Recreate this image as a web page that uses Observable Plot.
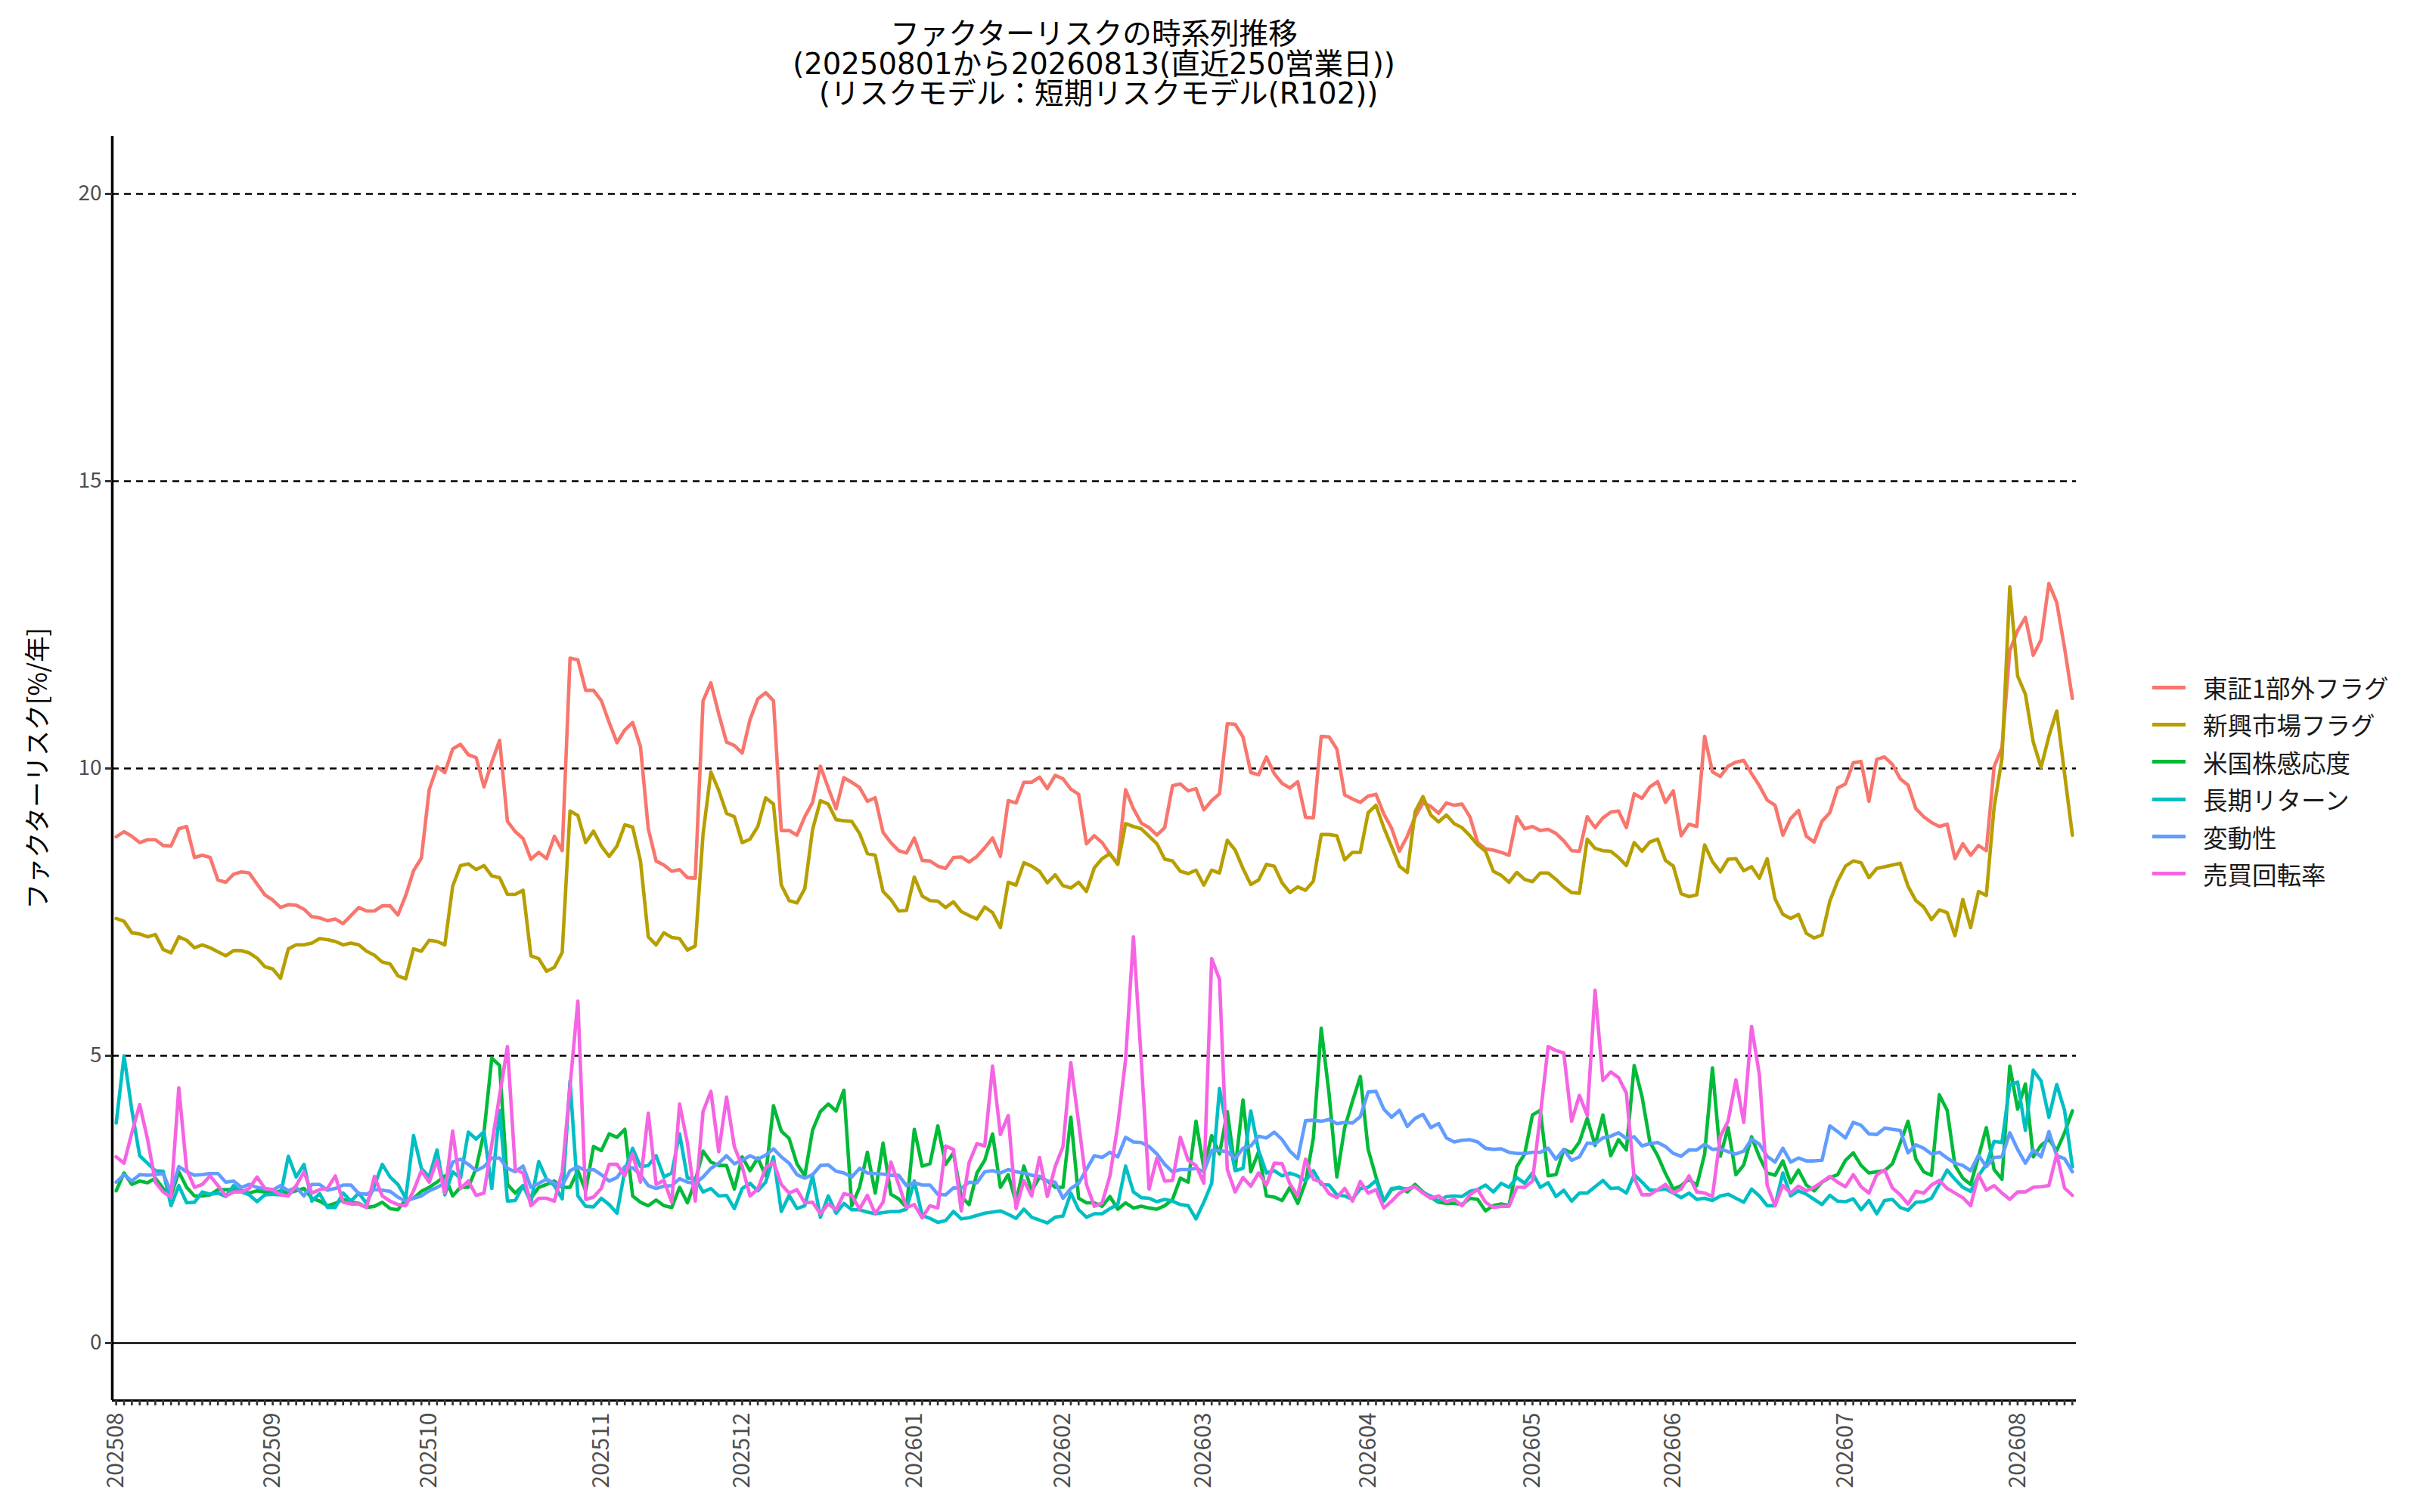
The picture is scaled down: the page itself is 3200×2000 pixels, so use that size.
<!DOCTYPE html>
<html>
<head>
<meta charset="utf-8">
<script src="https://cdn.jsdelivr.net/npm/d3@7"></script>
<script src="https://cdn.jsdelivr.net/npm/@observablehq/plot@0.6"></script>
<style>
  html, body { margin: 0; padding: 0; background: #ffffff; }
  #page { position: relative; width: 3200px; height: 2000px; background: #ffffff; font-family: "Noto Sans CJK JP", "Noto Sans", sans-serif; }
  #chart { position: absolute; left: 0; top: 0; }
  #title { position: absolute; left: 0; top: 25px; width: 2893px; text-align: center; font-family: "DejaVu Sans", "Noto Sans CJK JP", sans-serif; font-size: 38.6px; line-height: 39.5px; color: #000; white-space: pre; }
  #legend { position: absolute; left: 2846px; top: 884px; }
  .item { position: relative; height: 49.4px; }
  .sw { position: absolute; left: 0; top: 22.5px; width: 44px; height: 5px; }
  .lb { position: absolute; left: 67px; top: 0; font-size: 32.5px; line-height: 50px; color: #1a1a1a; white-space: nowrap; }
</style>
</head>
<body>
<div id="page">
  <div id="chart"></div>
  <div id="title"></div>
  <div id="legend"></div>
</div>
<script>
// ---------- data ----------
const titleLines = ["ファクターリスクの時系列推移", "(20250801から20260813(直近250営業日))", " (リスクモデル：短期リスクモデル(R102))"];
const yLabel = "ファクターリスク[%/年]";
const seriesNames = ["東証1部外フラグ", "新興市場フラグ", "米国株感応度", "長期リターン", "変動性", "売買回転率"];
const seriesColors = ["#F8766D", "#B79F00", "#00BA38", "#00BFC4", "#619CFF", "#F564E3"];
const yTicks = [0, 5, 10, 15, 20];
const startDate = "2025-08-01";
const endDate = "2026-08-13";
const holidays = ["2025-08-11","2025-09-15","2025-09-23","2025-10-13","2025-11-03","2025-11-24","2025-12-31",
  "2026-01-01","2026-01-02","2026-01-12","2026-02-11","2026-02-23","2026-03-20","2026-04-29",
  "2026-05-04","2026-05-05","2026-05-06","2026-07-20","2026-08-11"];

const tseOther = [
8.81,8.90,8.82,8.71,8.76,8.76,8.66,8.65,8.95,8.99,
8.45,8.49,8.45,8.06,8.02,8.16,8.20,8.18,7.99,7.80,
7.71,7.58,7.63,7.62,7.55,7.42,7.40,7.35,7.38,7.30,
7.44,7.58,7.52,7.52,7.61,7.61,7.45,7.79,8.22,8.44,
9.63,10.03,9.93,10.34,10.42,10.24,10.19,9.68,10.11,10.49,
9.08,8.90,8.78,8.42,8.54,8.43,8.82,8.57,11.92,11.89,
11.36,11.36,11.18,10.80,10.45,10.67,10.80,10.38,8.95,8.39,
8.32,8.21,8.24,8.10,8.09,11.18,11.49,10.95,10.46,10.40,
10.27,10.85,11.21,11.32,11.18,8.92,8.92,8.84,9.16,9.41,
10.04,9.66,9.30,9.84,9.76,9.67,9.43,9.49,8.89,8.71,
8.57,8.53,8.79,8.40,8.39,8.30,8.26,8.45,8.46,8.37,
8.47,8.62,8.79,8.47,9.44,9.40,9.76,9.76,9.85,9.65,
9.88,9.82,9.64,9.55,8.69,8.83,8.71,8.51,8.34,9.63,
9.30,9.05,8.97,8.84,8.97,9.70,9.73,9.61,9.65,9.28,
9.44,9.56,10.78,10.77,10.55,9.93,9.89,10.20,9.91,9.74,
9.66,9.77,9.15,9.14,10.56,10.55,10.34,9.54,9.47,9.41,
9.52,9.55,9.21,8.96,8.56,8.82,9.16,9.40,9.34,9.22,
9.40,9.36,9.38,9.16,8.71,8.60,8.58,8.54,8.49,9.16,
8.95,8.99,8.92,8.94,8.87,8.74,8.57,8.56,9.16,8.97,
9.14,9.24,9.26,8.97,9.56,9.48,9.68,9.77,9.41,9.61,
8.83,9.03,8.99,10.56,9.94,9.86,10.04,10.11,10.14,9.91,
9.70,9.45,9.36,8.84,9.13,9.27,8.82,8.72,9.08,9.23,
9.66,9.73,10.10,10.12,9.43,10.16,10.20,10.07,9.82,9.71,
9.30,9.16,9.06,8.99,9.03,8.43,8.69,8.49,8.66,8.57,
10.03,10.36,12.05,12.40,12.63,11.97,12.24,13.22,12.89,12.10,11.22];

const emerging = [
7.39,7.34,7.14,7.12,7.07,7.11,6.85,6.79,7.07,7.01,
6.88,6.93,6.88,6.81,6.74,6.83,6.83,6.79,6.70,6.55,
6.51,6.35,6.86,6.93,6.93,6.96,7.04,7.02,6.99,6.93,
6.96,6.93,6.82,6.75,6.63,6.60,6.39,6.34,6.86,6.82,
7.01,6.99,6.93,7.95,8.31,8.34,8.24,8.31,8.13,8.10,
7.81,7.81,7.88,6.74,6.69,6.47,6.54,6.80,9.26,9.18,
8.71,8.91,8.65,8.47,8.65,9.02,8.98,8.39,7.07,6.93,
7.14,7.06,7.04,6.84,6.91,8.86,9.94,9.62,9.22,9.16,
8.71,8.77,8.99,9.49,9.38,7.97,7.70,7.66,7.91,8.94,
9.44,9.38,9.11,9.09,9.08,8.87,8.52,8.49,7.86,7.72,
7.52,7.53,8.11,7.78,7.70,7.69,7.58,7.68,7.51,7.44,
7.38,7.59,7.49,7.23,8.02,7.97,8.36,8.30,8.21,8.01,
8.15,7.96,7.92,8.02,7.86,8.27,8.43,8.52,8.33,9.04,
8.99,8.95,8.82,8.69,8.42,8.39,8.21,8.17,8.23,7.97,
8.23,8.18,8.75,8.58,8.26,7.98,8.06,8.33,8.30,8.01,
7.84,7.94,7.88,8.04,8.85,8.85,8.83,8.41,8.54,8.54,
9.23,9.36,8.97,8.64,8.30,8.19,9.25,9.51,9.19,9.07,
9.19,9.04,8.97,8.83,8.67,8.56,8.21,8.14,8.02,8.19,
8.07,8.03,8.18,8.18,8.07,7.94,7.84,7.83,8.77,8.61,
8.57,8.56,8.45,8.31,8.71,8.56,8.72,8.77,8.40,8.30,
7.82,7.77,7.80,8.67,8.38,8.20,8.42,8.43,8.22,8.29,
8.09,8.43,7.73,7.46,7.39,7.46,7.13,7.05,7.10,7.69,
8.04,8.30,8.39,8.36,8.10,8.26,8.29,8.32,8.35,7.95,
7.70,7.59,7.37,7.54,7.49,7.09,7.72,7.23,7.86,7.79,
9.33,10.17,13.16,11.61,11.29,10.46,10.02,10.56,11.00,9.91,8.84];

const usBeta = [
2.65,2.96,2.76,2.82,2.79,2.87,2.69,2.56,2.98,2.71,
2.56,2.56,2.58,2.67,2.67,2.67,2.65,2.61,2.65,2.63,
2.61,2.65,2.61,2.65,2.69,2.52,2.47,2.39,2.43,2.50,
2.45,2.43,2.36,2.38,2.45,2.34,2.32,2.50,2.52,2.64,
2.71,2.80,2.91,2.56,2.71,2.71,3.04,3.66,4.96,4.83,
2.76,2.61,2.74,2.52,2.71,2.76,2.82,2.71,2.71,3.00,
2.65,3.42,3.35,3.64,3.58,3.72,2.56,2.45,2.39,2.49,
2.39,2.36,2.71,2.44,2.82,3.34,3.15,3.09,3.09,2.68,
3.24,3.00,3.22,2.91,4.13,3.69,3.56,3.12,2.91,3.71,
4.03,4.16,4.04,4.40,2.39,2.71,3.32,2.61,3.48,2.59,
2.51,2.36,3.72,3.08,3.12,3.78,3.11,3.31,2.55,2.41,
2.96,3.18,3.64,2.71,2.93,2.45,3.08,2.65,2.89,2.82,
2.71,2.71,3.93,2.52,2.44,2.44,2.38,2.55,2.33,2.44,
2.35,2.38,2.35,2.33,2.39,2.50,2.87,2.80,3.86,3.04,
3.61,3.29,4.03,3.02,4.23,2.98,3.33,2.56,2.54,2.48,
2.71,2.43,2.80,3.57,5.48,4.34,2.89,3.75,4.21,4.64,
3.37,2.89,2.47,2.67,2.71,2.63,2.76,2.63,2.54,2.45,
2.43,2.43,2.41,2.52,2.50,2.30,2.39,2.42,2.39,3.07,
3.29,3.97,4.05,2.91,2.93,3.37,3.31,3.50,3.91,3.44,
3.97,3.26,3.54,3.36,4.83,4.29,3.50,3.26,2.95,2.68,
2.74,2.85,2.74,3.29,4.79,3.25,3.75,2.93,3.10,3.59,
3.24,2.96,2.92,3.17,2.79,3.01,2.75,2.65,2.80,2.88,
2.93,3.18,3.31,3.09,2.96,2.98,3.00,3.12,3.48,3.86,
3.20,2.98,2.92,4.32,4.05,3.09,2.87,2.76,3.24,3.75,
3.02,2.85,4.82,4.07,4.51,3.24,3.44,3.55,3.35,3.66,4.04];

const longReturn = [
3.83,5.00,4.05,3.26,3.13,3.00,2.99,2.39,2.74,2.44,
2.45,2.63,2.59,2.61,2.55,2.74,2.63,2.58,2.46,2.58,
2.59,2.58,3.25,2.89,3.11,2.47,2.60,2.36,2.36,2.61,
2.47,2.61,2.43,2.74,3.11,2.89,2.76,2.52,3.61,3.04,
2.89,3.36,2.58,2.98,2.87,3.67,3.55,3.68,2.69,4.05,
2.47,2.48,2.74,2.45,3.16,2.85,2.74,2.51,4.56,2.56,
2.38,2.37,2.52,2.41,2.26,3.00,3.39,3.07,3.09,3.26,
2.89,2.96,3.64,2.87,2.86,2.63,2.69,2.56,2.57,2.34,
2.69,2.78,2.65,2.80,3.24,2.29,2.57,2.34,2.39,2.91,
2.19,2.56,2.26,2.43,2.32,2.32,2.28,2.25,2.27,2.29,
2.29,2.33,2.82,2.22,2.17,2.10,2.13,2.29,2.16,2.18,
2.22,2.26,2.28,2.30,2.24,2.17,2.33,2.19,2.14,2.09,
2.19,2.21,2.61,2.32,2.19,2.25,2.25,2.34,2.41,3.08,
2.63,2.53,2.52,2.46,2.50,2.47,2.41,2.39,2.16,2.45,
2.78,4.43,3.70,3.00,3.04,4.04,3.35,2.96,3.00,2.91,
2.96,2.91,2.82,3.00,2.76,2.75,2.58,2.56,2.50,2.69,
2.71,2.83,2.47,2.69,2.70,2.68,2.73,2.61,2.56,2.47,
2.55,2.56,2.55,2.64,2.67,2.75,2.63,2.78,2.71,2.88,
2.78,2.96,2.71,2.79,2.55,2.66,2.47,2.61,2.61,2.72,
2.83,2.69,2.70,2.61,2.93,2.80,2.66,2.66,2.68,2.61,
2.53,2.61,2.50,2.52,2.48,2.56,2.59,2.52,2.45,2.68,
2.56,2.39,2.39,2.96,2.56,2.65,2.59,2.50,2.41,2.57,
2.47,2.46,2.51,2.32,2.48,2.25,2.48,2.50,2.36,2.31,
2.45,2.46,2.52,2.76,3.01,2.85,2.71,2.64,2.91,3.11,
3.51,3.49,4.49,4.54,3.70,4.75,4.56,3.93,4.50,4.05,3.07];

const volatility = [
2.80,2.93,2.82,2.93,2.92,2.93,2.95,2.63,3.07,2.98,
2.92,2.93,2.95,2.95,2.80,2.82,2.71,2.76,2.71,2.68,
2.66,2.74,2.65,2.71,2.56,2.76,2.76,2.66,2.69,2.75,
2.75,2.60,2.59,2.67,2.66,2.64,2.54,2.47,2.52,2.56,
2.65,2.71,2.78,3.15,3.20,3.11,3.00,3.07,3.22,3.22,
3.04,2.98,3.08,2.71,2.78,2.85,2.78,2.74,3.00,3.07,
3.00,3.02,2.93,2.82,2.88,3.07,3.05,2.93,2.74,2.69,
2.73,2.74,2.86,2.80,2.78,2.89,3.04,3.13,3.26,3.12,
3.18,3.26,3.20,3.27,3.38,3.24,3.13,2.93,2.87,2.93,
3.09,3.10,2.99,2.96,2.89,3.04,2.96,2.95,2.94,2.92,
2.92,2.74,2.79,2.75,2.75,2.59,2.58,2.70,2.69,2.80,
2.79,2.98,3.00,2.96,3.02,2.98,2.96,2.92,2.90,2.82,
2.80,2.52,2.69,2.78,3.02,3.26,3.23,3.32,3.24,3.58,
3.50,3.49,3.42,3.29,3.11,2.98,3.02,3.02,3.04,2.98,
3.35,3.35,3.33,3.21,3.39,3.43,3.60,3.57,3.67,3.54,
3.34,3.21,3.87,3.88,3.86,3.89,3.82,3.84,3.83,3.94,
4.37,4.38,4.07,3.93,4.05,3.77,3.91,3.98,3.75,3.82,
3.57,3.50,3.53,3.54,3.50,3.39,3.37,3.38,3.32,3.30,
3.30,3.32,3.32,3.39,3.20,3.37,3.18,3.24,3.48,3.47,
3.57,3.60,3.66,3.56,3.59,3.43,3.47,3.49,3.42,3.30,
3.25,3.36,3.36,3.46,3.37,3.38,3.33,3.29,3.34,3.55,
3.46,3.25,3.15,3.39,3.15,3.22,3.17,3.17,3.18,3.78,
3.68,3.57,3.84,3.79,3.64,3.63,3.74,3.72,3.70,3.31,
3.45,3.39,3.29,3.32,3.22,3.13,3.09,3.00,3.27,3.07,
3.23,3.24,3.66,3.37,3.13,3.36,3.24,3.68,3.26,3.21,2.98];

const turnover = [
3.24,3.13,3.66,4.15,3.55,2.80,2.63,2.54,4.44,3.02,
2.71,2.76,2.91,2.74,2.56,2.63,2.63,2.69,2.89,2.69,
2.67,2.58,2.56,2.74,2.98,2.61,2.67,2.69,2.91,2.45,
2.42,2.42,2.36,2.90,2.56,2.47,2.41,2.39,2.65,3.00,
2.80,3.18,2.61,3.69,2.69,2.82,2.57,2.61,3.46,4.31,
5.16,3.02,2.96,2.39,2.52,2.52,2.47,2.98,4.47,5.95,
2.50,2.54,2.69,3.11,3.11,2.91,3.29,2.80,4.00,2.76,
2.83,2.45,4.16,3.48,2.47,4.03,4.38,3.33,4.28,3.42,
3.07,2.56,2.68,3.05,3.15,2.76,2.61,2.67,2.44,2.45,
2.25,2.42,2.32,2.60,2.57,2.33,2.57,2.25,2.45,3.15,
2.76,2.36,2.41,2.18,2.39,2.35,3.43,3.37,2.30,3.14,
3.47,3.43,4.82,3.63,3.96,2.34,2.83,2.56,3.23,2.55,
3.07,3.42,4.88,3.83,2.76,2.38,2.44,2.91,3.79,4.93,
7.07,4.93,2.68,3.22,2.82,2.83,3.58,3.18,3.09,2.78,
6.69,6.33,3.02,2.63,2.88,2.73,2.96,2.75,3.13,3.12,
2.77,2.56,3.20,2.85,2.80,2.60,2.53,2.69,2.47,2.81,
2.61,2.67,2.35,2.47,2.61,2.68,2.72,2.61,2.52,2.56,
2.46,2.50,2.39,2.58,2.67,2.45,2.36,2.38,2.38,2.71,
2.71,2.82,3.96,5.16,5.09,5.05,3.86,4.31,3.96,6.14,
4.57,4.72,4.62,4.35,2.87,2.58,2.58,2.67,2.76,2.61,
2.68,2.91,2.63,2.61,2.55,3.59,3.86,4.58,3.84,5.51,
4.67,2.74,2.39,2.74,2.61,2.73,2.65,2.71,2.80,2.90,
2.80,2.72,2.93,2.72,2.61,2.93,3.01,2.70,2.58,2.42,
2.64,2.61,2.75,2.83,2.69,2.61,2.53,2.39,2.93,2.66,
2.74,2.61,2.50,2.63,2.63,2.71,2.72,2.74,3.29,2.70,2.57];

const seriesValues = [tseOther, emerging, usBeta, longReturn, volatility, turnover];

// ---------- business-day calendar (dates of the x axis) ----------
function businessDays(start, end, offDays) {
  const off = new Set(offDays);
  const out = [];
  const d = new Date(start + "T00:00:00Z");
  const e = new Date(end + "T00:00:00Z");
  while (d <= e) {
    const wd = d.getUTCDay();
    const iso = d.toISOString().slice(0, 10);
    if (wd !== 0 && wd !== 6 && !off.has(iso)) out.push(iso);
    d.setUTCDate(d.getUTCDate() + 1);
  }
  return out;
}
const dates = businessDays(startDate, endDate, holidays);
const monthStarts = dates.filter((d, i) => i === 0 || d.slice(0, 7) !== dates[i - 1].slice(0, 7));
const monthLabel = d => d.slice(0, 4) + d.slice(5, 7);

const rows = [];
seriesNames.forEach((name, s) => {
  seriesValues[s].forEach((v, i) => { if (i < dates.length) rows.push({series: name, date: dates[i], value: v}); });
});

// ---------- chart ----------
const font = "'Noto Sans CJK JP', 'Noto Sans', sans-serif";
const chart = Plot.plot({
  width: 3200,
  height: 2000,
  marginLeft: 148,
  marginRight: 455,
  marginTop: 180,
  marginBottom: 148,
  style: {fontFamily: font, background: "#ffffff", overflow: "visible"},
  x: {type: "point", domain: dates, padding: 0.5},
  y: {domain: [-1, 21]},
  color: {domain: seriesNames, range: seriesColors},
  marks: [
    Plot.ruleY(yTicks.filter(t => t > 0), {stroke: "#000", strokeWidth: 2.4, strokeDasharray: "9,7"}),
    Plot.ruleY([0], {stroke: "#000", strokeWidth: 2.6}),
    Plot.lineY(rows, {x: "date", y: "value", z: "series", stroke: "series", strokeWidth: 4.6, strokeLinejoin: "round"}),
    Plot.ruleY([-1], {stroke: "#000", strokeWidth: 3}),
    Plot.ruleX([dates[0]], {y1: -1, y2: 21, dx: -5.2, stroke: "#000", strokeWidth: 3.5}),
    Plot.axisY({ticks: yTicks, tickSize: 9, tickPadding: 5, fontSize: 28, stroke: "#333", strokeWidth: 3, fill: "#4D4D4D", label: null}),
    Plot.axisX({ticks: dates, tickSize: 7, tickFormat: () => "", stroke: "#333", strokeWidth: 2.6, label: null}),
    Plot.axisX({ticks: monthStarts, tickSize: 0, tickPadding: 16, tickRotate: -90, tickFormat: monthLabel, fontSize: 30, fill: "#4D4D4D", label: null}),
    Plot.text([yLabel], {frameAnchor: "left", dx: -97, rotate: -90, fontSize: 34, fill: "#000", textAnchor: "middle"})
  ]
});
document.getElementById("chart").appendChild(chart);

// ---------- title & legend ----------
document.getElementById("title").textContent = titleLines.join("\n");
const legend = document.getElementById("legend");
seriesNames.forEach((name, i) => {
  const item = document.createElement("div");
  item.className = "item";
  item.innerHTML = `<div class="sw" style="background:${seriesColors[i]}"></div><div class="lb">${name}</div>`;
  legend.appendChild(item);
});
</script>
</body>
</html>
